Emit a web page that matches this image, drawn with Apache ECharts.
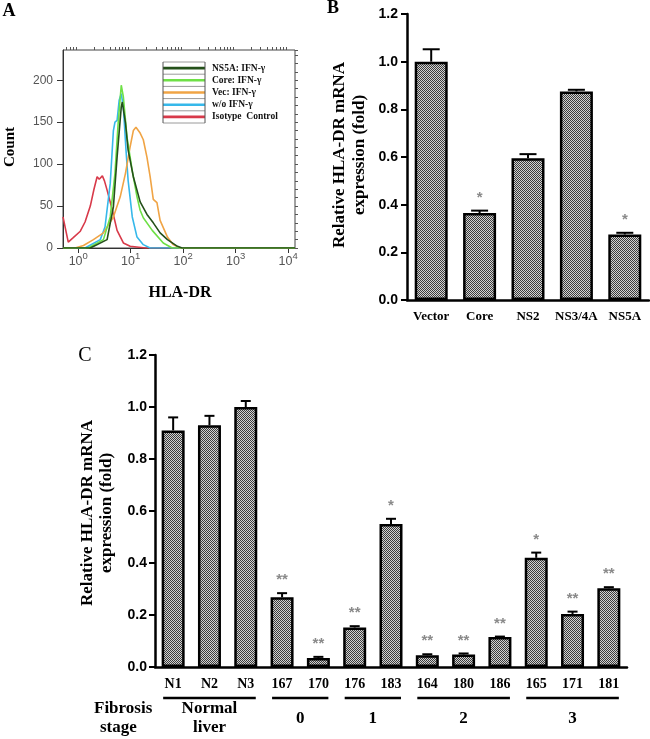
<!DOCTYPE html>
<html><head><meta charset="utf-8">
<script src="https://cdn.jsdelivr.net/npm/echarts@6/dist/echarts.min.js"></script>
<style>html,body{margin:0;padding:0;background:#fff}#c{width:650px;height:739px}</style>
</head><body><div id="c"></div>
<script>
// ---------- Panel A: flow histogram (x = log10 HLA-DR intensity) ----------
const ns5aLogX  = [-0.29, 0.23, 0.55, 0.67, 0.74, 0.82, 0.84, 0.90, 0.95, 1.05, 1.18, 1.31, 1.43, 1.56, 1.70, 1.89, 1.98, 4.13];
const ns5aCount = [0, 0, 10, 49, 108, 168, 174, 149, 117, 85, 55, 40, 30, 18, 10, 2, 0, 0];
const coreLogX  = [-0.29, 0.19, 0.48, 0.61, 0.70, 0.76, 0.82, 0.86, 0.93, 1.03, 1.12, 1.18, 1.24, 1.41, 1.62, 1.79, 4.13];
const coreCount = [0, 0, 10, 37, 89, 148, 194, 180, 132, 92, 61, 45, 36, 21, 6, 0, 0];
const vecLogX   = [-0.29, -0.06, 0.10, 0.29, 0.48, 0.67, 0.80, 0.90, 0.99, 1.05, 1.10, 1.18, 1.24, 1.31, 1.37, 1.43, 1.50, 1.56, 1.70, 1.81, 1.94, 4.13];
const vecCount  = [0, 0, 3, 10, 18, 37, 61, 89, 121, 140, 144, 137, 129, 108, 85, 58, 54, 33, 13, 4, 0, 0];
const woLogX    = [-0.29, 0.13, 0.42, 0.51, 0.61, 0.67, 0.70, 0.74, 0.78, 0.82, 0.86, 0.91, 0.95, 1.03, 1.12, 1.24, 1.37, 4.13];
const woCount   = [0, 0, 10, 25, 77, 140, 150, 152, 176, 184, 168, 117, 81, 37, 13, 4, 0, 0];
const isoLogX   = [-0.29, -0.19, -0.10, 0.04, 0.13, 0.23, 0.30, 0.36, 0.40, 0.46, 0.50, 0.55, 0.65, 0.74, 0.86, 0.99, 1.28, 4.13];
const isoCount  = [37, 7, 12, 20, 31, 50, 70, 85, 82, 86, 80, 69, 45, 21, 6, 2, 0, 0];
const aNames  = ['NS5A: IFN-γ', 'Core: IFN-γ', 'Vec: IFN-γ', 'w/o IFN-γ', 'Isotype  Control'];
const aColors = ['#24501a', '#6ee046', '#f0a445', '#36b8ea', '#d83a4a'];
const aXDecades = [0, 1, 2, 3, 4];
const aYTicks = [0, 50, 100, 150, 200];

// ---------- Panel B ----------
const bCats  = ['Vector', 'Core', 'NS2', 'NS3/4A', 'NS5A'];
const bMean  = [1.0, 0.365, 0.595, 0.875, 0.275];
const bUpper = [1.052, 0.375, 0.612, 0.882, 0.282];
const bSig   = ['', '*', '', '', '*'];

// ---------- Panel C ----------
const cCats  = ['N1', 'N2', 'N3', '167', '170', '176', '183', '164', '180', '186', '165', '171', '181'];
const cMean  = [0.91, 0.93, 1.0, 0.268, 0.035, 0.152, 0.55, 0.045, 0.048, 0.115, 0.42, 0.204, 0.303];
const cUpper = [0.96, 0.966, 1.023, 0.284, 0.039, 0.157, 0.57, 0.049, 0.052, 0.117, 0.44, 0.213, 0.307];
const cSig   = ['', '', '', '**', '**', '**', '*', '**', '**', '**', '*', '**', '**'];
const groupNames = ['Normal\nliver', '0', '1', '2', '3'];
const groupStart = [0, 3, 5, 7, 10];
const groupEnd   = [2, 4, 6, 9, 12];

// ---------- build ----------
const SERIF = '"Liberation Serif","Times New Roman",serif';
const SANS = '"Liberation Sans",Arial,sans-serif';

const pc = document.createElement('canvas'); pc.width = 2; pc.height = 2;
const g = pc.getContext('2d');
g.fillStyle = '#d2d2d2'; g.fillRect(0, 0, 2, 2);
g.fillStyle = '#3c3c3c'; g.fillRect(0, 0, 1, 1); g.fillRect(1, 1, 1, 1);
const hatch = { image: pc, repeat: 'repeat' };

const zip = (xs, ys) => xs.map((x, i) => [x, ys[i]]);
const curves = [
  [isoLogX, isoCount, 4], [woLogX, woCount, 3], [vecLogX, vecCount, 2],
  [coreLogX, coreCount, 1], [ns5aLogX, ns5aCount, 0]
];
const minorX = [];
for (let n = -1; n <= 3; n++) for (let k = 2; k <= 9; k++) {
  const v = n + Math.log10(k); if (v > -0.29 && v < 4.13) minorX.push(v);
}

function errRender(sig, capW) {
  return function (params, api) {
    const i = api.value(0), m = api.value(1), u = api.value(2);
    const p0 = api.coord([i, m]), p1 = api.coord([i, u]);
    const ch = [
      { type: 'line', shape: { x1: p0[0], y1: p0[1], x2: p1[0], y2: p1[1] }, style: { stroke: '#000', lineWidth: 2 } },
      { type: 'line', shape: { x1: p1[0] - capW / 2, y1: p1[1], x2: p1[0] + capW / 2, y2: p1[1] }, style: { stroke: '#000', lineWidth: 2 } }
    ];
    if (sig[i]) ch.push({ type: 'text', style: { text: sig[i], x: p1[0], y: p1[1] - 13, textAlign: 'center', textVerticalAlign: 'middle', fill: '#8a8a8a', font: 'bold 15px ' + SANS } });
    return { type: 'group', children: ch };
  };
}

const graphics = [];
function txt(text, x, y, font, opts) {
  graphics.push(Object.assign({ type: 'text', x: x, y: y, style: { text: text, font: font, fill: '#000', textAlign: 'center', textVerticalAlign: 'middle' } }, opts || {}));
}
// panel letters
txt('A', 9, 11, 'bold 18px ' + SERIF);
txt('B', 333, 8, 'bold 18px ' + SERIF);
txt('C', 85, 356, '20px ' + SERIF);
// axis titles
txt('Count', 10, 147, 'bold 15px ' + SERIF, { rotation: Math.PI / 2 });
txt('HLA-DR', 180, 293, 'bold 16px ' + SERIF);
txt('Relative HLA-DR mRNA', 340, 155, 'bold 17px ' + SERIF, { rotation: Math.PI / 2 });
txt('expression (fold)', 360, 155, 'bold 17px ' + SERIF, { rotation: Math.PI / 2 });
txt('Relative HLA-DR mRNA', 88, 513, 'bold 17px ' + SERIF, { rotation: Math.PI / 2 });
txt('expression (fold)', 107, 513, 'bold 17px ' + SERIF, { rotation: Math.PI / 2 });
graphics.push({ type: 'text', x: 94, y: 709, style: { text: 'Fibrosis', font: 'bold 17px ' + SERIF, fill: '#000', textAlign: 'left', textVerticalAlign: 'middle' } });
graphics.push({ type: 'text', x: 100, y: 728, style: { text: 'stage', font: 'bold 17px ' + SERIF, fill: '#000', textAlign: 'left', textVerticalAlign: 'middle' } });
// legend of panel A
const lgX0 = 163, lgX1 = 205, lgTop = 62, lgStep = 6.1;
for (let j = 0; j <= 10; j++) {
  const y = lgTop + lgStep * j;
  const colored = j % 2 === 1;
  graphics.push({ type: 'line', shape: { x1: lgX0, y1: y, x2: lgX1, y2: y }, style: { stroke: colored ? aColors[(j - 1) / 2] : '#9a9a9a', lineWidth: colored ? 2.6 : 1 } });
  if (colored) graphics.push({ type: 'text', x: 212, y: y, style: { text: aNames[(j - 1) / 2], font: 'bold 9.5px ' + SERIF, fill: '#111', textAlign: 'left', textVerticalAlign: 'middle' } });
}
graphics.push({ type: 'line', shape: { x1: lgX0, y1: lgTop, x2: lgX0, y2: lgTop + lgStep * 10 }, style: { stroke: '#555', lineWidth: 1 } });
graphics.push({ type: 'line', shape: { x1: lgX1, y1: lgTop, x2: lgX1, y2: lgTop + lgStep * 10 }, style: { stroke: '#555', lineWidth: 1 } });

const boldAxisLine = { show: true, onZero: false, lineStyle: { color: '#000', width: 2.5 } };

const option = {
  animation: false,
  backgroundColor: '#fff',
  grid: [
    { left: 63, top: 50, width: 232, height: 198, show: true, borderColor: '#444', borderWidth: 1, backgroundColor: 'transparent' },
    { left: 407, top: 14, width: 242, height: 286 },
    { left: 155, top: 355, width: 472, height: 312 }
  ],
  xAxis: [
    { gridIndex: 0, type: 'value', min: -0.29, max: 4.13,
      axisLine: { show: true, onZero: false, lineStyle: { color: '#333', width: 1 } },
      axisTick: { show: true, customValues: aXDecades, length: 5, lineStyle: { color: '#333' } },
      splitLine: { show: false },
      axisLabel: { customValues: aXDecades, margin: 3, color: '#555',
        formatter: v => '{b|10}{s|' + Math.round(v) + '}',
        rich: { b: { fontSize: 12.5, fontFamily: SANS, color: '#555', verticalAlign: 'bottom' },
                s: { fontSize: 9.5, fontFamily: SANS, color: '#555', verticalAlign: 'top', padding: [0, 0, 7, 0] } } } },
    { gridIndex: 0, type: 'value', min: -0.29, max: 4.13, axisLine: { show: false, onZero: false },
      axisTick: { show: true, customValues: minorX, length: 3, lineStyle: { color: '#555' } },
      axisLabel: { show: false }, splitLine: { show: false } },
    { gridIndex: 1, type: 'category', data: bCats, axisLine: boldAxisLine,
      axisTick: { alignWithLabel: true, length: 6, lineStyle: { color: '#000', width: 2 } },
      axisLabel: { interval: 0, margin: 10, color: '#000', fontFamily: SERIF, fontWeight: 'bold', fontSize: 13 } },
    { gridIndex: 2, type: 'category', data: cCats, axisLine: boldAxisLine,
      axisTick: { alignWithLabel: true, length: 6, lineStyle: { color: '#000', width: 2 } },
      axisLabel: { interval: 0, margin: 10, color: '#000', fontFamily: SERIF, fontWeight: 'bold', fontSize: 14 } }
  ],
  yAxis: [
    { gridIndex: 0, type: 'value', min: 0, max: 236,
      axisLine: { show: true, onZero: false, lineStyle: { color: '#333', width: 1 } },
      axisTick: { show: true, customValues: aYTicks, length: 6, lineStyle: { color: '#333' } },
      axisLabel: { customValues: aYTicks, margin: 10, color: '#555', fontSize: 12, fontFamily: SANS },
      splitLine: { show: false } },
    { gridIndex: 0, type: 'value', min: 0, max: 236, interval: 10, axisLine: { show: false, onZero: false },
      axisTick: { show: true, length: 3, lineStyle: { color: '#555' } },
      axisLabel: { show: false }, splitLine: { show: false } },
    { gridIndex: 1, type: 'value', min: 0, max: 1.2, interval: 0.2, axisLine: boldAxisLine,
      axisTick: { show: true, length: 6, lineStyle: { color: '#000', width: 2 } },
      axisLabel: { margin: 9, color: '#000', fontFamily: SANS, fontWeight: 'bold', fontSize: 14, formatter: v => v.toFixed(1) },
      splitLine: { show: false } },
    { gridIndex: 2, type: 'value', min: 0, max: 1.2, interval: 0.2, axisLine: boldAxisLine,
      axisTick: { show: true, length: 6, lineStyle: { color: '#000', width: 2 } },
      axisLabel: { margin: 8, color: '#000', fontFamily: SANS, fontWeight: 'bold', fontSize: 14, formatter: v => v.toFixed(1) },
      splitLine: { show: false } }
  ],
  series: [
    ...curves.map(([xs, ys, ci]) => ({
      type: 'line', name: aNames[ci], xAxisIndex: 0, yAxisIndex: 0, data: zip(xs, ys),
      showSymbol: false, symbol: 'none', silent: true, z: 3,
      lineStyle: { color: aColors[ci], width: 1.6 }
    })),
    { type: 'bar', xAxisIndex: 2, yAxisIndex: 2, data: bMean, barWidth: 33, silent: true,
      itemStyle: { color: hatch, borderColor: '#000', borderWidth: 2.5 } },
    { type: 'custom', xAxisIndex: 2, yAxisIndex: 2, silent: true, z: 5,
      data: bMean.map((m, i) => [i, m, bUpper[i]]), renderItem: errRender(bSig, 17) },
    { type: 'bar', xAxisIndex: 3, yAxisIndex: 3, data: cMean, barWidth: 23, silent: true,
      itemStyle: { color: hatch, borderColor: '#000', borderWidth: 2.5 } },
    { type: 'custom', xAxisIndex: 3, yAxisIndex: 3, silent: true, z: 5,
      data: cMean.map((m, i) => [i, m, cUpper[i]]), renderItem: errRender(cSig, 10) },
    { type: 'custom', xAxisIndex: 3, yAxisIndex: 3, silent: true, z: 5,
      data: groupStart.map((s, i) => [s, 0, groupEnd[i], i]),
      renderItem: function (params, api) {
        const s = api.value(0), e = api.value(2), gi = api.value(3);
        const p0 = api.coord([s, 0]), p1 = api.coord([e, 0]);
        const y0 = p0[1], mid = (p0[0] + p1[0]) / 2;
        const ch = [{ type: 'line', shape: { x1: p0[0] - 10, y1: y0 + 31, x2: p1[0] + 10, y2: y0 + 31 }, style: { stroke: '#000', lineWidth: 2.5 } }];
        const lines = groupNames[gi].split('\n');
        const yS = lines.length === 1 ? y0 + 52 : y0 + 42;
        lines.forEach((t, k) => ch.push({ type: 'text', style: { text: t, x: mid, y: yS + 19 * k, textAlign: 'center', textVerticalAlign: 'middle', fill: '#000', font: 'bold 17px ' + SERIF } }));
        return { type: 'group', children: ch };
      } }
  ],
  graphic: graphics
};
const chart = echarts.init(document.getElementById('c'), null, { renderer: 'canvas' });
chart.setOption(option);
</script></body></html>
